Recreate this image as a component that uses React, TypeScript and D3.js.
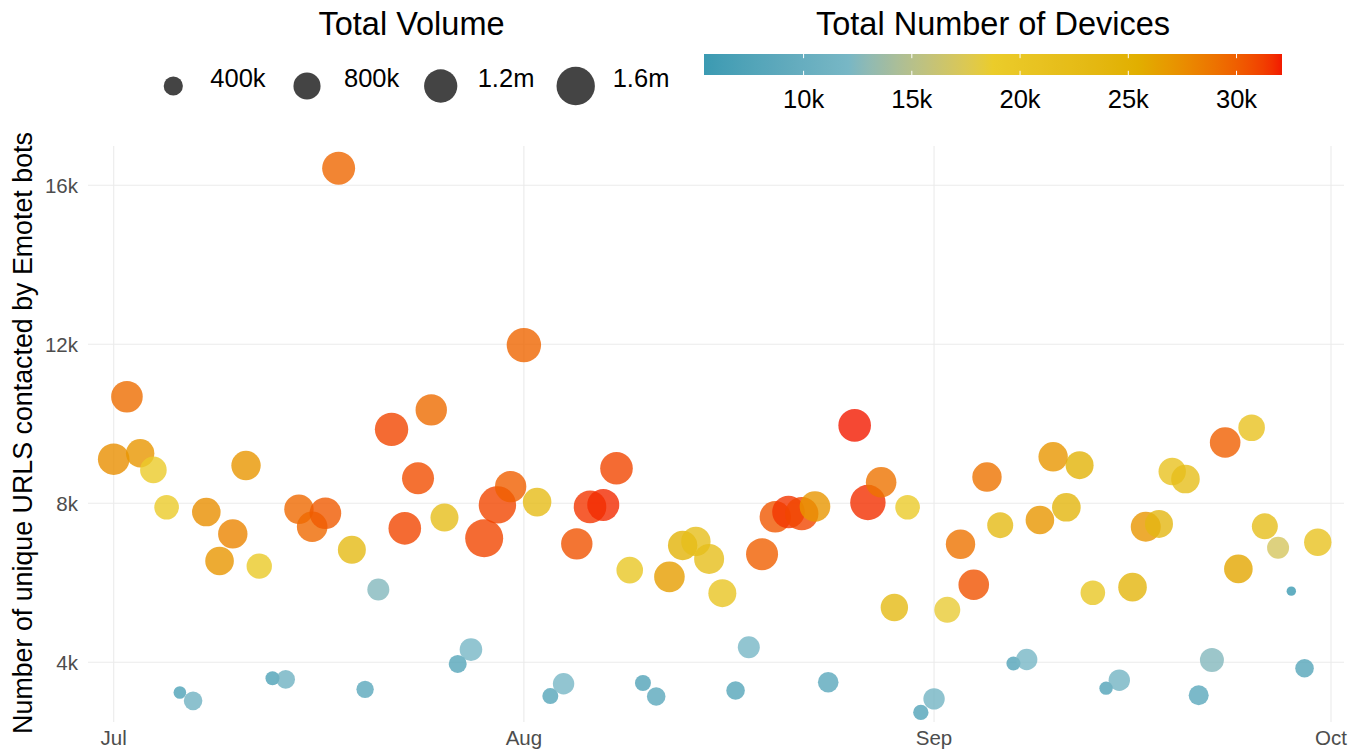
import React from "react";
import * as d3 from "d3";

// ---- data ----
const dates: string[] = [
  "2019-07-01","2019-07-02","2019-07-03","2019-07-04","2019-07-05","2019-07-06","2019-07-07",
  "2019-07-08","2019-07-09","2019-07-10","2019-07-11","2019-07-12","2019-07-13","2019-07-14",
  "2019-07-15","2019-07-16","2019-07-17","2019-07-18","2019-07-19","2019-07-20","2019-07-21",
  "2019-07-22","2019-07-23","2019-07-24","2019-07-25","2019-07-26","2019-07-27","2019-07-28",
  "2019-07-29","2019-07-30","2019-07-31","2019-08-01","2019-08-02","2019-08-03","2019-08-04",
  "2019-08-05","2019-08-06","2019-08-07","2019-08-08","2019-08-09","2019-08-10","2019-08-11",
  "2019-08-12","2019-08-13","2019-08-14","2019-08-15","2019-08-16","2019-08-17","2019-08-18",
  "2019-08-19","2019-08-20","2019-08-21","2019-08-22","2019-08-23","2019-08-24",
  "2019-08-26","2019-08-27","2019-08-28","2019-08-29","2019-08-30","2019-08-31","2019-09-01",
  "2019-09-02","2019-09-03","2019-09-04","2019-09-05","2019-09-06","2019-09-07","2019-09-08",
  "2019-09-09","2019-09-10","2019-09-11","2019-09-12","2019-09-13","2019-09-14","2019-09-15",
  "2019-09-16","2019-09-17","2019-09-18","2019-09-19","2019-09-20","2019-09-21","2019-09-22",
  "2019-09-23","2019-09-24","2019-09-25","2019-09-26","2019-09-27","2019-09-28","2019-09-29",
  "2019-09-30",
];

const uniqueUrls: number[] = [
  9110,10680,9260,8840,7900,3240,3030,
  7780,6550,7230,8950,6420,3600,3570,
  7850,7410,7750,16430,6830,3320,5830,
  9860,7370,8630,10350,7640,3960,4320,
  7120,7960,8420,11980,8030,3150,3460,
  6980,7910,7960,8880,6320,3480,3140,
  6150,6940,7040,6600,5740,3290,4380,
  6720,7660,7780,7740,7920,3500,
  9960,8020,8530,5380,7900,2740,3080,
  5320,6970,5950,8660,7450,3970,4070,
  7580,9170,7900,8960,5750,3350,3550,
  5890,7410,7480,8800,8610,3170,4060,
  9530,6350,9900,7420,6880,5790,3850,
  7020,
];

const totalVolume: number[] = [
  1083000,1083000,875000,768000,657000,172000,375000,
  888000,888000,938000,938000,700000,213000,375000,
  938000,1016000,1083000,1181000,851000,328000,525000,
  1210000,1153000,1111000,1070000,851000,352000,554000,
  1567000,1518000,1070000,1284000,888000,278000,497000,
  1070000,1153000,1111000,1153000,768000,278000,375000,
  1016000,938000,938000,977000,851000,375000,525000,
  1111000,1070000,1153000,1210000,1016000,460000,
  1153000,1360000,1016000,815000,657000,257000,497000,
  733000,938000,1016000,938000,733000,213000,497000,
  888000,938000,888000,851000,657000,195000,497000,
  888000,977000,851000,815000,888000,434000,625000,
  1016000,888000,768000,733000,525000,96000,375000,
  815000,
];

const totalDevices: number[] = [
  27500,29300,27000,19000,19000,7000,11000,
  27500,27000,28000,27000,19500,7000,11000,
  29500,29500,30200,29600,23000,8500,12500,
  31000,31000,30700,29400,22000,8000,12000,
  31000,31000,30000,29700,22500,8000,12000,
  30500,31500,31800,31000,20000,7500,8500,
  26500,24500,22000,22000,20500,8000,12000,
  30000,30300,31500,31000,27000,8500,
  32100,31700,29000,23000,19000,7500,11500,
  18500,29000,30500,29000,23000,7500,12000,
  27000,27000,24000,24500,20000,7500,11500,
  24000,27000,23500,21000,22000,8500,12500,
  30000,26000,21000,22000,17000,5400,8000,
  21000,
];

const yTicks: number[] = [4000, 8000, 12000, 16000];
const xTicks: string[] = ["2019-07-01", "2019-08-01", "2019-09-01", "2019-10-01"];
const xTickLabels: string[] = ["Jul", "Aug", "Sep", "Oct"];
const sizeBreaks: number[] = [400000, 800000, 1200000, 1600000];
const sizeLabels: string[] = ["400k", "800k", "1.2m", "1.6m"];
const colorBreaks: number[] = [10000, 15000, 20000, 25000, 30000];
const colorLabels: string[] = ["10k", "15k", "20k", "25k", "30k"];
const palette: string[] = ["#3B9AB2", "#78B7C5", "#EBCC2A", "#E1AF00", "#F21A00"];

const FONT = "'Liberation Sans', Arial, Helvetica, sans-serif";

export default function App() {
  const W = 1351, H = 749;
  const panel = { left: 88, right: 1344, top: 146, bottom: 722 };

  const parse = (s: string) => new Date(s + "T00:00:00Z");
  const x = d3.scaleUtc()
    .domain([parse("2019-07-01"), parse("2019-10-01")])
    .range([113.7, 1331]);
  const y = d3.scaleLinear().domain([4000, 16000]).range([662.3, 185.3]);
  const r = d3.scaleSqrt().domain([0, 1600000]).range([0, 19.2]);

  const [dMin, dMax] = d3.extent(totalDevices) as [number, number];
  const stops = d3.range(palette.length).map((i) => dMin + (i / (palette.length - 1)) * (dMax - dMin));
  const color = d3.scaleLinear<string>().domain(stops).range(palette).interpolate(d3.interpolateLab);

  const points = dates.map((d, i) => ({
    date: parse(d),
    urls: uniqueUrls[i],
    vol: totalVolume[i],
    dev: totalDevices[i],
  }));

  // colorbar
  const bar = { x0: 704, x1: 1282, y0: 54, y1: 75 };
  const cbX = d3.scaleLinear().domain([dMin, dMax]).range([bar.x0, bar.x1]);
  const gradStops = d3.range(0, 61).map((i) => {
    const t = i / 60;
    return { off: t, col: color(dMin + t * (dMax - dMin)) };
  });
  const tickLen = (bar.y1 - bar.y0) / 5;

  // size legend layout
  const sizeCx = [173.3, 307, 440.7, 575.7];

  return (
    <svg width={W} height={H} style={{ position: "absolute", left: 0, top: 0, display: "block", background: "#fff" }} fontFamily={FONT}>
      <defs>
        <linearGradient id="cbgrad" x1="0" x2="1" y1="0" y2="0">
          {gradStops.map((s, i) => (
            <stop key={i} offset={s.off} stopColor={s.col} />
          ))}
        </linearGradient>
      </defs>

      {/* grid */}
      {yTicks.map((t) => (
        <line key={"gy" + t} x1={panel.left} x2={panel.right} y1={y(t)} y2={y(t)} stroke="#EBEBEB" strokeWidth={1.1} />
      ))}
      {xTicks.map((t) => (
        <line key={"gx" + t} x1={x(parse(t))} x2={x(parse(t))} y1={panel.top} y2={panel.bottom} stroke="#EBEBEB" strokeWidth={1.1} />
      ))}

      {/* points */}
      {points.map((p, i) => (
        <circle key={i} cx={x(p.date)} cy={y(p.urls)} r={r(p.vol)} fill={color(p.dev)} fillOpacity={0.8} />
      ))}

      {/* y tick labels */}
      {yTicks.map((t) => (
        <text key={"ly" + t} x={78} y={y(t)} dy="0.36em" textAnchor="end" fontSize={20.5} fill="#4D4D4D">
          {t / 1000 + "k"}
        </text>
      ))}
      {/* x tick labels */}
      {xTicks.map((t, i) => (
        <text key={"lx" + t} x={x(parse(t))} y={745} textAnchor="middle" fontSize={20.5} fill="#4D4D4D">
          {xTickLabels[i]}
        </text>
      ))}

      {/* y axis title */}
      <text transform="translate(31.7,433) rotate(-90)" textAnchor="middle" fontSize={26.8} fill="#000">
        Number of unique URLS contacted by Emotet bots
      </text>

      {/* size legend */}
      <text x={411.5} y={35} textAnchor="middle" fontSize={32.5} fill="#000">Total Volume</text>
      {sizeBreaks.map((b, i) => (
        <g key={"sz" + b}>
          <circle cx={sizeCx[i]} cy={86} r={r(b)} fill="#444444" />
          <text x={sizeCx[i] + 37} y={87} fontSize={25.5} fill="#000">{sizeLabels[i]}</text>
        </g>
      ))}

      {/* color legend */}
      <text x={(bar.x0 + bar.x1) / 2} y={35} textAnchor="middle" fontSize={32.5} fill="#000">Total Number of Devices</text>
      <rect x={bar.x0} y={bar.y0} width={bar.x1 - bar.x0} height={bar.y1 - bar.y0} fill="url(#cbgrad)" />
      {colorBreaks.map((b, i) => (
        <g key={"cb" + b}>
          <line x1={cbX(b)} x2={cbX(b)} y1={bar.y0} y2={bar.y0 + tickLen} stroke="#fff" strokeWidth={1} />
          <line x1={cbX(b)} x2={cbX(b)} y1={bar.y1 - tickLen} y2={bar.y1} stroke="#fff" strokeWidth={1} />
          <text x={cbX(b)} y={108} textAnchor="middle" fontSize={25.5} fill="#000">{colorLabels[i]}</text>
        </g>
      ))}
    </svg>
  );
}
